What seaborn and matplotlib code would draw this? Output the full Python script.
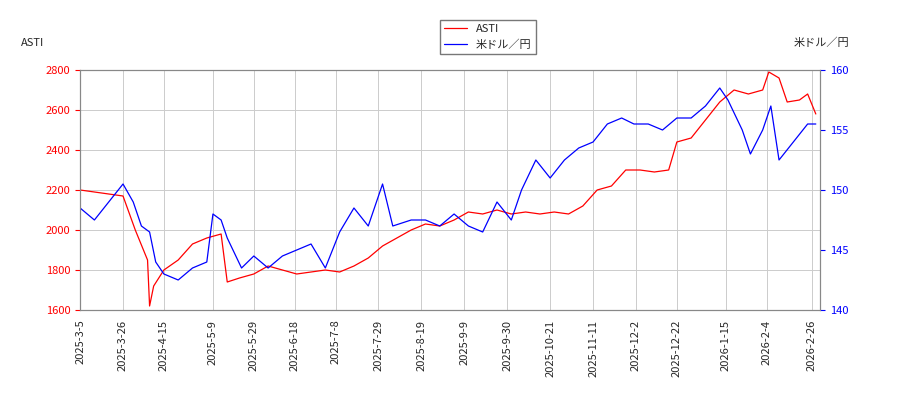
import pandas as pd
import matplotlib
matplotlib.use("Agg")
import matplotlib.pyplot as plt
import seaborn as sns

asti_dates = ["2025-03-05","2025-03-12","2025-03-19","2025-03-26","2025-04-01","2025-04-07","2025-04-08",
    "2025-04-10","2025-04-15","2025-04-22","2025-04-29","2025-05-06","2025-05-13","2025-05-16","2025-05-22",
    "2025-05-29","2025-06-05","2025-06-12","2025-06-19","2025-06-26","2025-07-03","2025-07-10","2025-07-17",
    "2025-07-24","2025-07-31","2025-08-07","2025-08-14","2025-08-21","2025-08-28","2025-09-04","2025-09-11",
    "2025-09-18","2025-09-25","2025-10-02","2025-10-09","2025-10-16","2025-10-23","2025-10-30","2025-11-06",
    "2025-11-13","2025-11-20","2025-11-27","2025-12-04","2025-12-11","2025-12-18","2025-12-22","2025-12-29",
    "2026-01-05","2026-01-12","2026-01-19","2026-01-26","2026-02-02","2026-02-05","2026-02-10","2026-02-14",
    "2026-02-20","2026-02-24","2026-02-28"]
asti_vals = [2200,2190,2180,2170,2000,1850,1620,1720,1800,1850,1930,1960,1980,1740,1760,1780,1820,1800,
    1780,1790,1800,1790,1820,1860,1920,1960,2000,2030,2020,2050,2090,2080,2100,2080,2090,2080,2090,2080,
    2120,2200,2220,2300,2300,2290,2300,2440,2460,2550,2640,2700,2680,2700,2790,2760,2640,2650,2680,2580]

usd_dates = ["2025-03-05","2025-03-12","2025-03-19","2025-03-26","2025-03-31","2025-04-04","2025-04-08",
    "2025-04-11","2025-04-15","2025-04-22","2025-04-29","2025-05-06","2025-05-09","2025-05-13","2025-05-16",
    "2025-05-23","2025-05-29","2025-06-05","2025-06-12","2025-06-19","2025-06-26","2025-07-03","2025-07-10",
    "2025-07-17","2025-07-24","2025-07-31","2025-08-05","2025-08-14","2025-08-21","2025-08-28","2025-09-04",
    "2025-09-11","2025-09-18","2025-09-25","2025-10-02","2025-10-07","2025-10-14","2025-10-21","2025-10-28",
    "2025-11-04","2025-11-11","2025-11-18","2025-11-25","2025-12-01","2025-12-08","2025-12-15","2025-12-22",
    "2025-12-29","2026-01-05","2026-01-12","2026-01-16","2026-01-23","2026-01-27","2026-02-02","2026-02-06",
    "2026-02-10","2026-02-17","2026-02-24","2026-02-28"]
usd_vals = [148.5,147.5,149,150.5,149,147,146.5,144,143,142.5,143.5,144,148,147.5,146,143.5,144.5,143.5,
    144.5,145,145.5,143.5,146.5,148.5,147,150.5,147,147.5,147.5,147,148,147,146.5,149,147.5,150,152.5,151,
    152.5,153.5,154,155.5,156,155.5,155.5,155,156,156,157,158.5,157.5,155,153,155,157,152.5,154,155.5,155.5]

tick_dates = ["2025-03-05","2025-03-26","2025-04-15","2025-05-09","2025-05-29","2025-06-18","2025-07-08",
    "2025-07-29","2025-08-19","2025-09-09","2025-09-30","2025-10-21","2025-11-11","2025-12-02","2025-12-22",
    "2026-01-15","2026-02-04","2026-02-26"]
ticks = pd.to_datetime(tick_dates)

asti = pd.DataFrame({"date": pd.to_datetime(asti_dates), "v": asti_vals})
usd = pd.DataFrame({"date": pd.to_datetime(usd_dates), "v": usd_vals})

sns.set_style("white")
plt.rcParams["font.family"] = ["Noto Sans CJK JP", "DejaVu Sans"]
plt.rcParams["font.size"] = 8

fig, ax = plt.subplots(figsize=(9, 4), dpi=100)
fig.subplots_adjust(left=0.089, right=0.911, top=0.825, bottom=0.225)
ax2 = ax.twinx()
sns.lineplot(data=asti, x="date", y="v", ax=ax, color="red", linewidth=0.9, label="ASTI", legend=False)
sns.lineplot(data=usd, x="date", y="v", ax=ax2, color="blue", linewidth=0.9, label="米ドル／円", legend=False)

ax.set_ylim(1600, 2800)
ax2.set_ylim(140, 160)
ax2.set_yticks([140, 145, 150, 155, 160])
ax.set_xlim(pd.Timestamp("2025-03-05"), pd.Timestamp("2026-03-02"))
ax.set_xticks(ticks)
ax.set_xticklabels([f"{d.year}-{d.month}-{d.day}" for d in ticks], rotation=90)
ax.grid(True, color="#cccccc", linewidth=0.7)
ax.tick_params(axis="y", colors="red")
ax2.tick_params(axis="y", colors="blue")
for a in (ax, ax2):
    for s in a.spines.values():
        s.set_color("#888888")
ax.set_xlabel("")
ax.set_ylabel("")
ax2.set_ylabel("")
ax.text(-0.08, 1.1, "ASTI", transform=ax.transAxes, fontsize=8)
ax2.text(1.04, 1.1, "米ドル／円", transform=ax.transAxes, fontsize=8, ha="right")

h1, l1 = ax.get_legend_handles_labels()
h2, l2 = ax2.get_legend_handles_labels()
fig.legend(h1 + h2, l1 + l2, loc="upper center", bbox_to_anchor=(0.542, 0.965), fontsize=8,
           fancybox=False, edgecolor="#555555")

fig.savefig("out.png")
